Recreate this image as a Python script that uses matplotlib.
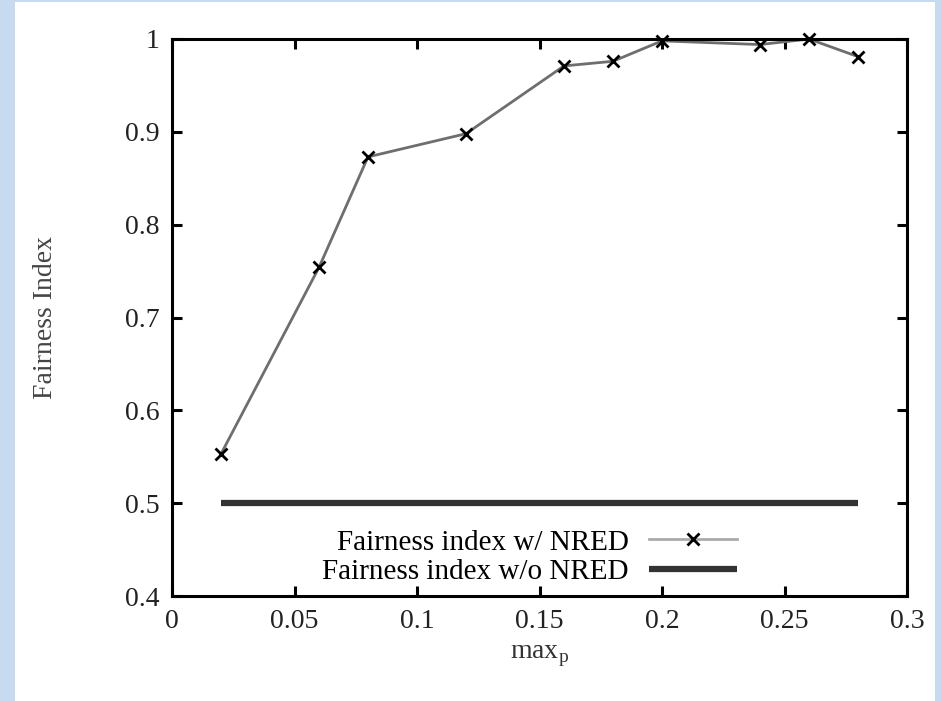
import matplotlib
matplotlib.use("Agg")
import matplotlib.pyplot as plt
from matplotlib.patches import Rectangle

plt.rcParams["font.family"] = ["Liberation Serif", "DejaVu Serif"]
plt.rcParams["mathtext.fontset"] = "custom"
plt.rcParams["mathtext.rm"] = "Liberation Serif"

# data
max_p = [0.02, 0.06, 0.08, 0.12, 0.16, 0.18, 0.20, 0.24, 0.26, 0.28]
fair_nred = [0.553, 0.754, 0.873, 0.898, 0.971, 0.976, 0.998, 0.994, 1.0, 0.981]
no_nred_x = [0.02, 0.28]
no_nred_y = [0.5, 0.5]

xticks = [0, 0.05, 0.1, 0.15, 0.2, 0.25, 0.3]
xticklabels = ["0", "0.05", "0.1", "0.15", "0.2", "0.25", "0.3"]
yticks = [0.4, 0.5, 0.6, 0.7, 0.8, 0.9, 1.0]
yticklabels = ["0.4", "0.5", "0.6", "0.7", "0.8", "0.9", "1"]

fig = plt.figure(figsize=(9.41, 7.01), dpi=100)
fig.patch.set_facecolor("#c6dbef")
fig.patches.append(Rectangle((15 / 941, 0), 920 / 941, 1 - 2 / 701,
                             transform=fig.transFigure, facecolor="white",
                             edgecolor="none", zorder=-10))

ax = fig.add_axes([172 / 941, 1 - 596 / 701, 735 / 941, 557 / 701])
ax.set_zorder(5)

ax.plot(max_p, fair_nred, color="#6e6e6e", lw=2, marker="x", ms=9, mew=2,
        mec="black", clip_on=False, label="Fairness index w/ NRED")
ax.plot(no_nred_x, no_nred_y, color="#333333", lw=4.5, solid_capstyle="butt",
        label="Fairness index w/o NRED")

ax.set_xlim(0, 0.3)
ax.set_ylim(0.4, 1.0)
ax.set_xticks(xticks)
ax.set_xticklabels(xticklabels)
ax.set_yticks(yticks)
ax.set_yticklabels(yticklabels)
ax.tick_params(direction="in", length=7, width=2.2, top=True, right=True,
               labelsize=20, pad=9, colors="black", labelcolor="#222222")
for s in ax.spines.values():
    s.set_linewidth(2.2)

ax.set_xlabel("max$_\\mathrm{p}$", fontsize=20, color="#333333", labelpad=7)
ax.set_ylabel("Fairness Index", fontsize=20, color="#444444")
ax.yaxis.set_label_coords(-0.155, 0.5)

leg = ax.legend(loc="lower right", bbox_to_anchor=(0.80, -0.022), frameon=False,
                markerfirst=False, fontsize=21, handlelength=3.0,
                handletextpad=0.7, labelspacing=0.1, borderpad=0.3)
leg.get_lines()[0].set_color("#aaaaaa")

fig.savefig("out.png", dpi=100, facecolor=fig.get_facecolor())
